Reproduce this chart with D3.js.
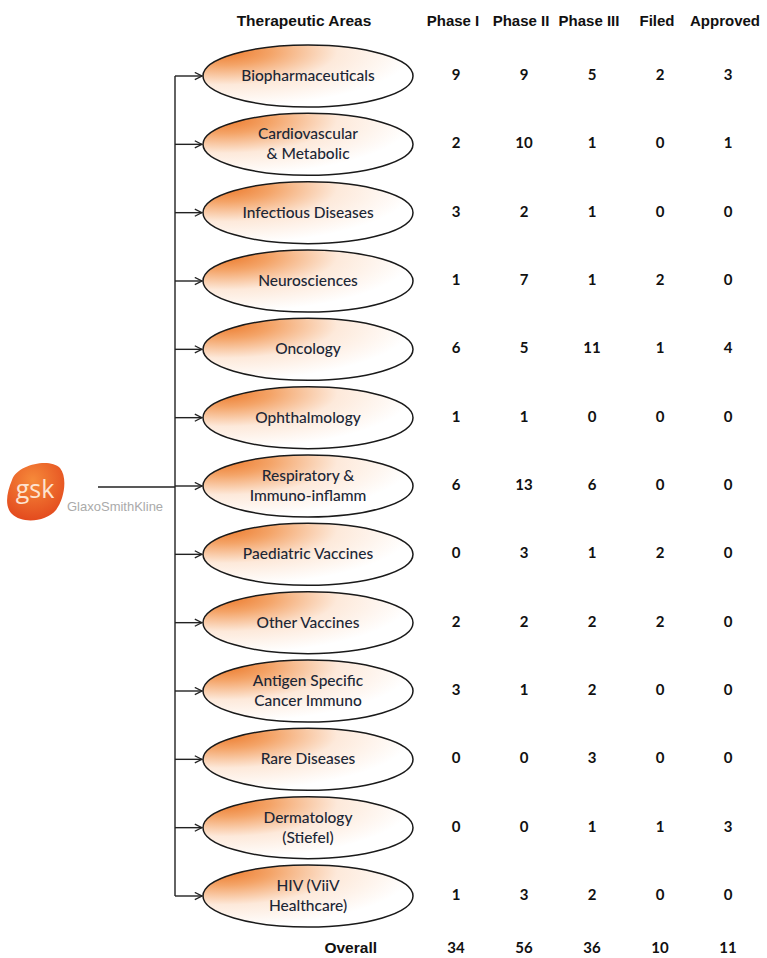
<!DOCTYPE html>
<html><head><meta charset="utf-8">
<script src="https://cdn.jsdelivr.net/npm/d3@7"></script>
<style>body{margin:0;background:#fff}</style>
</head><body>
<svg id="c" width="767" height="958"></svg>
<script>
const areas = ["Biopharmaceuticals", "Cardiovascular\n& Metabolic", "Infectious Diseases", "Neurosciences", "Oncology", "Ophthalmology", "Respiratory &\nImmuno-inflamm", "Paediatric Vaccines", "Other Vaccines", "Antigen Specific\nCancer Immuno", "Rare Diseases", "Dermatology\n(Stiefel)", "HIV (ViiV\nHealthcare)"];
const phases = ["Phase I", "Phase II", "Phase III", "Filed", "Approved"];
const phaseI   = [9, 2, 3, 1, 6, 1, 6, 0, 2, 3, 0, 0, 1];
const phaseII  = [9, 10, 2, 7, 5, 1, 13, 3, 2, 1, 0, 0, 3];
const phaseIII = [5, 1, 1, 1, 11, 0, 6, 1, 2, 2, 3, 1, 2];
const filed    = [2, 0, 0, 2, 1, 0, 0, 2, 2, 0, 0, 1, 0];
const approved = [3, 1, 0, 0, 4, 0, 0, 0, 0, 0, 0, 3, 0];
const overall  = [34, 56, 36, 10, 11];
const series = [phaseI, phaseII, phaseIII, filed, approved];

const svg = d3.select("#c");
const defs = svg.append("defs");
const g = defs.append("radialGradient").attr("id","og").attr("cx","0.1").attr("cy","0.1").attr("r","0.9").attr("fx","0.1").attr("fy","0.1");
g.append("stop").attr("offset","0%").attr("stop-color","#ec7a2c");
g.append("stop").attr("offset","25%").attr("stop-color","#f4a468");
g.append("stop").attr("offset","60%").attr("stop-color","#fde9da");
g.append("stop").attr("offset","100%").attr("stop-color","#ffffff");
const lg = defs.append("radialGradient").attr("id","logo").attr("cx","0.45").attr("cy","0.3").attr("r","0.75");
lg.append("stop").attr("offset","0%").attr("stop-color","#f68a3a");
lg.append("stop").attr("offset","100%").attr("stop-color","#e2461c");
const mk = defs.append("marker").attr("id","arr").attr("viewBox","0 0 10 10").attr("refX",9).attr("refY",5)
  .attr("markerWidth",9).attr("markerHeight",9).attr("markerUnits","userSpaceOnUse").attr("orient","auto");
mk.append("path").attr("d","M1,1 L9,5 L1,9").attr("fill","none").attr("stroke","#222").attr("stroke-width",1.4);

const y = d3.scalePoint().domain(d3.range(areas.length)).range([76, 896]);
const x = d3.scalePoint().domain(phases).range([456, 728]);
const cx = 308, rx = 105, ry = 31, trunkX = 175;

svg.append("line").attr("x1",trunkX).attr("x2",trunkX).attr("y1",y(0)).attr("y2",y(areas.length-1)).attr("stroke","#222").attr("stroke-width",1.4);
svg.selectAll(".br").data(areas).join("line").attr("x1",trunkX).attr("x2",cx-rx-1)
  .attr("y1",(d,i)=>y(i)).attr("y2",(d,i)=>y(i)).attr("stroke","#222").attr("stroke-width",1.4).attr("marker-end","url(#arr)");
svg.append("line").attr("x1",98).attr("x2",trunkX).attr("y1",487).attr("y2",487).attr("stroke","#222").attr("stroke-width",1.4);

const rows = svg.selectAll(".row").data(areas).join("g").attr("transform",(d,i)=>`translate(0,${y(i)})`);
rows.append("ellipse").attr("cx",cx).attr("cy",0).attr("rx",rx).attr("ry",ry)
  .attr("fill","url(#og)").attr("stroke","#1a1a1a").attr("stroke-width",1.5);
rows.each(function(d){
  const lines = d.split("\n");
  const t = d3.select(this).append("text").attr("x",cx).attr("text-anchor","middle")
    .attr("font-family","Lato, 'Open Sans', sans-serif").attr("font-size",15.5).attr("font-weight",500).attr("fill","#1c2736");
  lines.forEach((l,k)=>{
    t.append("tspan").attr("x",cx).attr("y", (k - (lines.length-1)/2)*20 + 5).text(l);
  });
});
series.forEach((s,j)=>{
  rows.append("text").attr("x",x(phases[j])).attr("y",4).attr("text-anchor","middle")
    .attr("font-family","Lato, 'Liberation Sans', Arial, sans-serif").attr("font-weight","bold").attr("font-size",15).attr("fill","#111")
    .text((d,i)=>s[i]);
});

const hf = "'Liberation Sans Narrow','Liberation Sans', Arial, sans-serif";
svg.append("text").attr("x",304).attr("y",26).attr("text-anchor","middle").attr("font-family",hf).attr("font-weight","bold").attr("font-size",15.5).attr("fill","#111").text("Therapeutic Areas");
svg.selectAll(".hd").data(phases).join("text").attr("x",d=>x(d)-3).attr("y",26).attr("text-anchor","middle")
  .attr("font-family",hf).attr("font-weight","bold").attr("font-size",15).attr("fill","#111").text(d=>d);
svg.append("text").attr("x",377).attr("y",953).attr("text-anchor","end").attr("font-family",hf).attr("font-weight","bold").attr("font-size",15.5).attr("fill","#111").text("Overall");
svg.selectAll(".ov").data(overall).join("text").attr("x",(d,j)=>x(phases[j])).attr("y",953).attr("text-anchor","middle")
  .attr("font-family","Lato, 'Liberation Sans', Arial, sans-serif").attr("font-weight","bold").attr("font-size",15).attr("fill","#111").text(d=>d);

// logo
svg.append("path").attr("d","M12,480 C18,464 50,458 60,468 C68,478 64,500 56,510 C46,522 22,524 12,514 C4,506 7,492 12,480 Z").attr("fill","url(#logo)");
svg.append("text").attr("x",35).attr("y",498).attr("text-anchor","middle").attr("font-family","'Open Sans', Arial, sans-serif").attr("font-size",25).attr("fill","#fde3d0").text("gsk");
svg.append("text").attr("x",67).attr("y",511).attr("font-family","'Liberation Sans Narrow','Liberation Sans', Arial, sans-serif").attr("font-size",13).attr("fill","#aaa").text("GlaxoSmithKline");
</script>
</body></html>
